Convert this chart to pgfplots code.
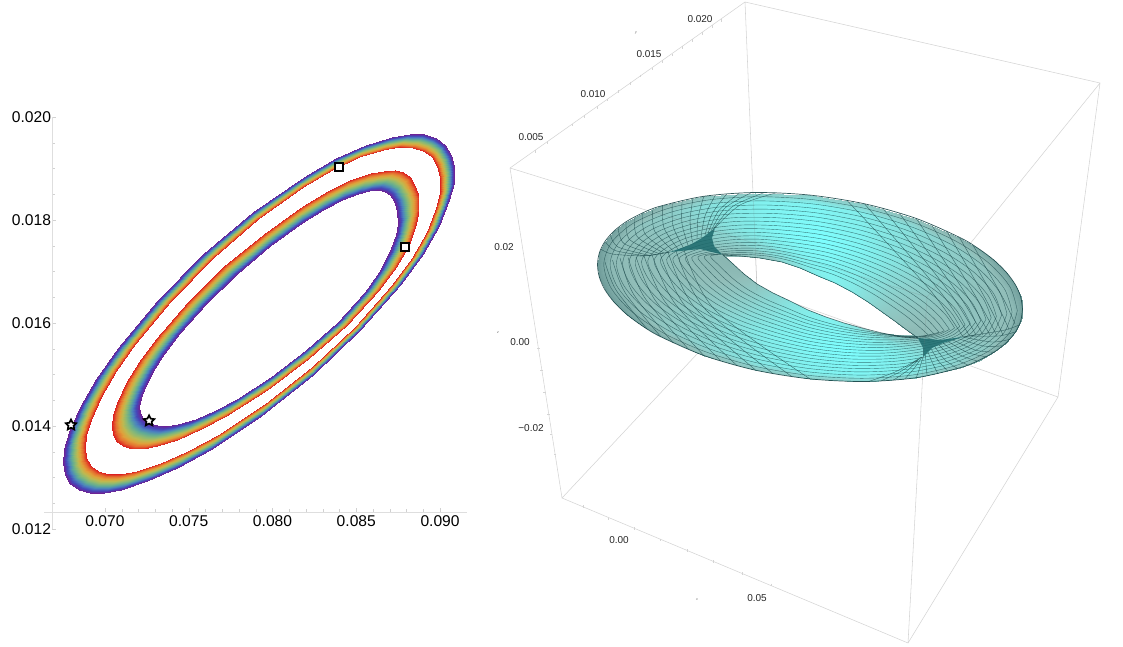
\documentclass[border=0pt]{standalone}
\usepackage{fontspec}
\setmainfont{Liberation Sans}
\usepackage{pgfplots}
\usepackage{pgfplotstable}
\pgfplotsset{compat=1.18}
\usetikzlibrary{plotmarks}

\definecolor{boxgray}{RGB}{212,212,212}
\definecolor{meshline}{RGB}{25,70,72}
\definecolor{folddark}{RGB}{28,105,108}

% five pointed star with a hollow middle
\pgfdeclareplotmark{hstar}{%
  \pgfpathmoveto{\pgfpointpolar{90}{\pgfplotmarksize}}%
  \pgfpathlineto{\pgfpointpolar{126}{.5\pgfplotmarksize}}%
  \pgfpathlineto{\pgfpointpolar{162}{\pgfplotmarksize}}%
  \pgfpathlineto{\pgfpointpolar{198}{.5\pgfplotmarksize}}%
  \pgfpathlineto{\pgfpointpolar{234}{\pgfplotmarksize}}%
  \pgfpathlineto{\pgfpointpolar{270}{.5\pgfplotmarksize}}%
  \pgfpathlineto{\pgfpointpolar{306}{\pgfplotmarksize}}%
  \pgfpathlineto{\pgfpointpolar{342}{.5\pgfplotmarksize}}%
  \pgfpathlineto{\pgfpointpolar{18}{\pgfplotmarksize}}%
  \pgfpathlineto{\pgfpointpolar{54}{.5\pgfplotmarksize}}%
  \pgfpathclose\pgfusepathqfillstroke}

% outer ring: x y m, m=0 red edge, m=1 purple edge
\pgfplotstableread[row sep=\\]{
x y m\\
0.089495 0.019221 0\\ 0.090314 0.019462 1\\
0.089839 0.019039 0\\ 0.090677 0.019268 1\\
0.090004 0.018813 0\\ 0.090847 0.019022 1\\
0.089975 0.018542 0\\ 0.090806 0.018727 1\\
0.089767 0.018233 0\\ 0.090565 0.018391 1\\
0.089194 0.017773 0\\ 0.089930 0.017888 1\\
0.088315 0.017268 0\\ 0.088955 0.017336 1\\
0.087148 0.016738 0\\ 0.087670 0.016753 1\\
0.084946 0.015925 0\\ 0.085252 0.015857 1\\
0.082345 0.015138 0\\ 0.082402 0.014986 1\\
0.079544 0.014423 0\\ 0.079328 0.014196 1\\
0.076733 0.013827 0\\ 0.076257 0.013536 1\\
0.074965 0.013514 0\\ 0.074319 0.013187 1\\
0.073336 0.013278 0\\ 0.072534 0.012926 1\\
0.071902 0.013127 0\\ 0.070958 0.012760 1\\
0.070981 0.013074 0\\ 0.069948 0.012701 1\\
0.070203 0.013072 0\\ 0.069094 0.012698 1\\
0.069595 0.013123 0\\ 0.068422 0.012755 1\\
0.069145 0.013227 0\\ 0.067928 0.012869 1\\
0.068881 0.013380 0\\ 0.067617 0.013044 1\\
0.068789 0.013581 0\\ 0.067495 0.013273 1\\
0.068881 0.013828 0\\ 0.067575 0.013554 1\\
0.069146 0.014118 0\\ 0.067849 0.013878 1\\
0.069762 0.014562 0\\ 0.068512 0.014372 1\\
0.070662 0.015059 0\\ 0.069492 0.014922 1\\
0.071813 0.015595 0\\ 0.070760 0.015510 1\\
0.073948 0.016433 0\\ 0.073115 0.016429 1\\
0.076436 0.017260 0\\ 0.075876 0.017331 1\\
0.079120 0.018017 0\\ 0.078862 0.018153 1\\
0.081832 0.018648 0\\ 0.081865 0.018839 1\\
0.083556 0.018977 0\\ 0.083779 0.019195 1\\
0.085168 0.019219 0\\ 0.085560 0.019458 1\\
0.086611 0.019367 0\\ 0.087147 0.019619 1\\
0.087551 0.019413 0\\ 0.088182 0.019670 1\\
0.088358 0.019405 0\\ 0.089068 0.019661 1\\
0.089006 0.019339 0\\ 0.089780 0.019591 1\\
0.089495 0.019221 0\\ 0.090314 0.019462 1\\
}\outerring

% inner ring: m=0 red outside, m=1 purple inside
\pgfplotstableread[row sep=\\]{
x y m\\
0.088190 0.018836 0\\ 0.086996 0.018484 1\\
0.088532 0.018665 0\\ 0.087291 0.018338 1\\
0.088719 0.018453 0\\ 0.087449 0.018157 1\\
0.088741 0.018206 0\\ 0.087472 0.017947 1\\
0.088584 0.017929 0\\ 0.087355 0.017710 1\\
0.088126 0.017524 0\\ 0.086978 0.017364 1\\
0.087379 0.017089 0\\ 0.086355 0.016995 1\\
0.086364 0.016639 0\\ 0.085518 0.016609 1\\
0.084418 0.015958 0\\ 0.083901 0.016028 1\\
0.082109 0.015309 0\\ 0.081974 0.015474 1\\
0.079672 0.014707 0\\ 0.079938 0.014958 1\\
0.077241 0.014199 0\\ 0.077904 0.014526 1\\
0.075710 0.013935 0\\ 0.076615 0.014304 1\\
0.074306 0.013736 0\\ 0.075419 0.014140 1\\
0.073078 0.013608 0\\ 0.074361 0.014038 1\\
0.072280 0.013561 0\\ 0.073671 0.014008 1\\
0.071617 0.013560 0\\ 0.073085 0.014016 1\\
0.071095 0.013602 0\\ 0.072614 0.014061 1\\
0.070715 0.013690 0\\ 0.072264 0.014146 1\\
0.070486 0.013821 0\\ 0.072098 0.014247 1\\
0.070411 0.013993 0\\ 0.072059 0.014385 1\\
0.070489 0.014205 0\\ 0.072153 0.014553 1\\
0.070726 0.014452 0\\ 0.072370 0.014753 1\\
0.071265 0.014829 0\\ 0.072855 0.015061 1\\
0.072055 0.015247 0\\ 0.073546 0.015406 1\\
0.073071 0.015698 0\\ 0.074419 0.015778 1\\
0.074949 0.016403 0\\ 0.076020 0.016365 1\\
0.077130 0.017098 0\\ 0.077867 0.016948 1\\
0.079470 0.017735 0\\ 0.079834 0.017489 1\\
0.081813 0.018273 0\\ 0.081789 0.017949 1\\
0.083293 0.018557 0\\ 0.083014 0.018195 1\\
0.084653 0.018771 0\\ 0.084137 0.018384 1\\
0.085856 0.018909 0\\ 0.085128 0.018511 1\\
0.086638 0.018961 0\\ 0.085761 0.018561 1\\
0.087293 0.018966 0\\ 0.086287 0.018574 1\\
0.087811 0.018924 0\\ 0.086705 0.018548 1\\
0.088190 0.018836 0\\ 0.086996 0.018484 1\\
}\innerring

% torus body in picture coordinates: 4 points per station
\pgfplotstableread[row sep=\\]{
x y m\\
1022.5 309.2 .25\\ 1012.1 312.1 .40\\ 970.3 323.6 .45\\ 918 338 .38\\
1020.7 297 .25\\ 1008.4 300.7 .40\\ 966 315.7 .45\\ 913 334.5 .38\\
1015.3 284.6 .25\\ 1004.6 289.2 .40\\ 961.7 307.8 .45\\ 908 331 .38\\
1006.3 272.3 .26\\ 994.4 277.8 .42\\ 953.4 299.5 .47\\ 902 326.5 .40\\
994 260.2 .28\\ 984.2 266.4 .45\\ 945 291.1 .50\\ 896 322 .43\\
978.6 248.7 .30\\ 968.3 255.8 .50\\ 933 283 .55\\ 889 317 .47\\
960.2 237.7 .33\\ 952.4 245.1 .54\\ 921.1 274.9 .60\\ 882 312 .51\\
916.3 218.5 .41\\ 911.5 226.9 .68\\ 892.2 260.3 .75\\ 868 302 .64\\
865 203.9 .50\\ 863.7 212.7 .81\\ 858.5 248 .90\\ 852 292 .77\\
810 195.1 .55\\ 812.5 203.9 .90\\ 822.5 239.1 1\\ 835 283 .85\\
755 192.5 .52\\ 761.3 200.9 .86\\ 786.5 234.3 .95\\ 818 276 .81\\
703.8 196.3 .44\\ 713.4 203.5 .72\\ 751.9 232.2 .80\\ 800 268 .68\\
659.8 206.3 .33\\ 672 211.9 .54\\ 720.9 234.2 .60\\ 782 262 .51\\
641.4 213.5 .30\\ 655.7 218.7 .50\\ 707 237 .55\\ 771 260 .47\\
626 221.8 .28\\ 639.4 225.4 .45\\ 693 239.9 .50\\ 760 258 .43\\
613.7 231.3 .26\\ 628.8 234.3 .42\\ 682.7 244.4 .47\\ 750 257 .40\\
604.7 241.8 .25\\ 618.2 243.2 .40\\ 672.4 248.9 .45\\ 740 256 .38\\
599.3 253 .24\\ 614.2 253.5 .39\\ 666.4 254.4 .43\\ 731.5 255.5 .37\\
597.5 264.8 .23\\ 610.1 263.8 .38\\ 660.3 259.9 .42\\ 723 255 .36\\
599.3 277 .23\\ 613.8 275.3 .38\\ 664.4 268 .42\\ 727.5 259 .36\\
604.7 289.4 .23\\ 617.4 286.8 .38\\ 668.4 276.2 .42\\ 732 263 .36\\
613.7 301.7 .24\\ 627.6 298.3 .39\\ 676.7 285 .43\\ 738 268.5 .37\\
626 313.8 .25\\ 637.8 309.8 .40\\ 685 293.9 .45\\ 744 274 .38\\
641.4 325.3 .27\\ 653.7 320.5 .45\\ 696.7 302 .50\\ 750.5 279 .42\\
659.8 336.3 .30\\ 669.5 331.1 .50\\ 708.4 310.2 .55\\ 757 284 .47\\
703.8 355.5 .39\\ 710.7 349.3 .63\\ 738.4 324.3 .70\\ 773 293 .60\\
755 370.1 .47\\ 758.5 363.2 .77\\ 772.5 335.6 .85\\ 790 301 .72\\
810 378.9 .52\\ 809.8 372 .86\\ 809 344.5 .95\\ 808 310 .81\\
865 381.5 .55\\ 861.1 375.1 .90\\ 845.5 349.3 1\\ 826 317 .85\\
916.3 377.7 .50\\ 909.1 372.2 .81\\ 880.2 350.4 .90\\ 844 323 .77\\
960.2 367.7 .39\\ 950.4 363.7 .63\\ 911.1 347.9 .70\\ 862 328 .60\\
978.6 360.5 .34\\ 966.6 357 .56\\ 924.6 345.3 .62\\ 872 330.5 .53\\
994 352.2 .30\\ 982.8 350.3 .50\\ 938 342.6 .55\\ 882 333 .47\\
1006.3 342.7 .27\\ 993.4 341.5 .45\\ 948.4 338.6 .50\\ 892 335 .42\\
1015.3 332.2 .25\\ 1004 332.7 .40\\ 958.7 334.6 .45\\ 902 337 .38\\
1020.7 321 .25\\ 1008 322.4 .40\\ 964.5 329.1 .45\\ 910 337.5 .38\\
1022.5 309.2 .25\\ 1012.1 312.1 .40\\ 970.3 323.6 .45\\ 918 338 .38\\
}\torusbody

% long mesh lines round the ring
\pgfplotstableread[row sep=\\]{
x y\\
1017.3 310.6\\ 1010 286.9\\ 989.1 263.3\\ 956.3 241.4\\ 913.9 222.7\\ 864.4 208.3\\ 811.3 199.5\\ 758.2 196.7\\ 708.6 199.9\\ 665.9 209.1\\ 632.7 223.6\\ 611.5 242.5\\ 603.8 264.3\\ 611.1 288.1\\ 631.9 311.8\\ 664.7 333.7\\ 707.3 352.4\\ 756.8 366.7\\ 809.9 375.5\\ 863.1 378.3\\ 912.7 375\\ 955.3 365.7\\ 988.4 351.3\\ 1009.7 332.5\\ 1017.3 310.6\\ nan nan\\
1012.1 312.1\\ 1004.6 289.2\\ 984.2 266.4\\ 952.4 245.1\\ 911.5 226.9\\ 863.7 212.7\\ 812.5 203.9\\ 761.3 200.9\\ 713.4 203.5\\ 672 211.9\\ 639.4 225.4\\ 618.2 243.2\\ 610.1 263.8\\ 617.4 286.8\\ 637.8 309.8\\ 669.5 331.1\\ 710.7 349.3\\ 758.5 363.2\\ 809.8 372\\ 861.1 375.1\\ 909.1 372.2\\ 950.4 363.7\\ 982.8 350.3\\ 1004 332.7\\ 1012.1 312.1\\ nan nan\\
1006.9 313.6\\ 999.2 291.6\\ 979.3 269.5\\ 948.5 248.9\\ 909.1 231.1\\ 863.1 217.1\\ 813.8 208.3\\ 764.5 205\\ 718.2 207.1\\ 678.1 214.7\\ 646.1 227.2\\ 625 243.9\\ 616.4 263.3\\ 623.8 285.5\\ 643.7 307.8\\ 674.4 328.5\\ 714.2 346.2\\ 760.3 359.8\\ 809.7 368.6\\ 859.2 371.9\\ 905.5 369.5\\ 945.5 361.8\\ 977.2 349.4\\ 998.3 333\\ 1006.9 313.6\\ nan nan\\
1001.6 315\\ 993.8 293.9\\ 974.4 272.6\\ 944.6 252.6\\ 906.6 235.2\\ 862.4 221.5\\ 815 212.7\\ 767.6 209.2\\ 723 210.6\\ 684.2 217.4\\ 652.8 229\\ 631.8 244.6\\ 622.6 262.8\\ 630.2 284.1\\ 649.6 305.8\\ 679.2 325.8\\ 717.6 343\\ 762 356.3\\ 809.6 365.1\\ 857.2 368.6\\ 901.8 366.8\\ 940.6 359.8\\ 971.6 348.4\\ 992.6 333.2\\ 1001.6 315\\ nan nan\\
996.4 316.4\\ 988.5 296.2\\ 969.5 275.7\\ 940.7 256.3\\ 904.2 239.4\\ 861.8 225.9\\ 816.3 217.1\\ 770.8 213.4\\ 727.9 214.2\\ 690.4 220.2\\ 659.5 230.9\\ 638.6 245.4\\ 628.9 262.4\\ 636.6 282.8\\ 655.5 303.9\\ 684.1 323.2\\ 721.1 339.9\\ 763.8 352.9\\ 809.5 361.7\\ 855.3 365.4\\ 898.2 364.1\\ 935.7 357.8\\ 966 347.4\\ 987 333.4\\ 996.4 316.4\\ nan nan\\
991.2 317.8\\ 983.1 298.5\\ 964.6 278.7\\ 936.7 260\\ 901.8 243.6\\ 861.1 230.3\\ 817.5 221.5\\ 773.9 217.6\\ 732.7 217.8\\ 696.5 223\\ 666.2 232.7\\ 645.3 246.1\\ 635.2 261.9\\ 642.9 281.5\\ 661.4 301.9\\ 689 320.6\\ 724.6 336.8\\ 765.5 349.4\\ 809.4 358.2\\ 853.3 362.2\\ 894.6 361.3\\ 930.7 355.8\\ 960.4 346.4\\ 981.3 333.6\\ 991.2 317.8\\ nan nan\\
986 319.3\\ 977.8 300.9\\ 959.7 281.8\\ 932.8 263.7\\ 899.4 247.8\\ 860.5 234.7\\ 818.8 225.9\\ 777 221.8\\ 737.5 221.4\\ 702.6 225.8\\ 672.9 234.5\\ 652.1 246.8\\ 641.5 261.4\\ 649.3 280.2\\ 667.3 299.9\\ 693.9 318\\ 728.1 333.7\\ 767.3 346\\ 809.3 354.8\\ 851.4 359\\ 891 358.6\\ 925.8 353.8\\ 954.8 345.5\\ 975.7 333.9\\ 986 319.3\\ nan nan\\
980.7 320.7\\ 972.4 303.2\\ 954.8 284.9\\ 928.9 267.4\\ 897 251.9\\ 859.8 239.1\\ 820 230.3\\ 780.2 225.9\\ 742.3 225\\ 708.7 228.6\\ 679.6 236.3\\ 658.8 247.5\\ 647.7 260.9\\ 655.6 278.8\\ 673.2 297.9\\ 698.7 315.4\\ 731.5 330.5\\ 769 342.5\\ 809.2 351.3\\ 849.4 355.7\\ 887.4 355.8\\ 920.9 351.8\\ 949.2 344.5\\ 970 334.1\\ 980.7 320.7\\ nan nan\\
975.5 322.2\\ 967.1 305.5\\ 949.9 288\\ 925 271.2\\ 894.6 256.1\\ 859.2 243.6\\ 821.3 234.7\\ 783.4 230.1\\ 747.1 228.6\\ 714.8 231.4\\ 686.3 238.1\\ 665.6 248.2\\ 654 260.4\\ 662 277.5\\ 679.1 295.9\\ 703.6 312.8\\ 735 327.4\\ 770.8 339.1\\ 809.1 347.9\\ 847.5 352.5\\ 883.8 353.1\\ 916 349.9\\ 943.6 343.6\\ 964.4 334.4\\ 975.5 322.2\\ nan nan\\
970.3 323.6\\ 961.7 307.8\\ 945 291.1\\ 921.1 274.9\\ 892.2 260.3\\ 858.5 248\\ 822.5 239.1\\ 786.5 234.3\\ 751.9 232.2\\ 720.9 234.2\\ 693 239.9\\ 672.4 248.9\\ 660.3 259.9\\ 668.4 276.2\\ 685 293.9\\ 708.4 310.2\\ 738.4 324.3\\ 772.5 335.6\\ 809 344.5\\ 845.5 349.3\\ 880.2 350.4\\ 911.1 347.9\\ 938 342.6\\ 958.7 334.6\\ 970.3 323.6\\ nan nan\\
965.1 325.1\\ 956.3 310.1\\ 940.1 294.2\\ 917.2 278.6\\ 889.8 264.5\\ 857.9 252.4\\ 823.8 243.5\\ 789.7 238.5\\ 756.7 235.8\\ 727 237\\ 699.7 241.7\\ 679.2 249.6\\ 666.6 259.4\\ 674.8 274.9\\ 690.9 291.9\\ 713.3 307.6\\ 741.9 321.2\\ 774.3 332.1\\ 808.9 341.1\\ 843.6 346.1\\ 876.6 347.7\\ 906.2 345.9\\ 932.4 341.7\\ 953 334.9\\ 965.1 325.1\\ nan nan\\
959.8 326.5\\ 950.9 312.4\\ 935.2 297.3\\ 913.3 282.3\\ 887.3 268.6\\ 857.2 256.8\\ 825 247.8\\ 792.8 242.6\\ 761.5 239.3\\ 733.1 239.7\\ 706.4 243.5\\ 685.9 250.3\\ 672.8 258.9\\ 681.1 273.6\\ 696.8 289.9\\ 718.1 304.9\\ 745.3 318\\ 776 328.6\\ 808.8 337.6\\ 841.6 342.8\\ 872.9 344.9\\ 901.3 343.9\\ 926.8 340.7\\ 947.3 335.1\\ 959.8 326.5\\ nan nan\\
954.6 328\\ 945.6 314.8\\ 930.3 300.4\\ 909.4 286\\ 884.9 272.8\\ 856.6 261.2\\ 826.3 252.2\\ 796 246.8\\ 766.3 242.9\\ 739.2 242.5\\ 713.1 245.3\\ 692.7 251\\ 679.1 258.5\\ 687.5 272.3\\ 702.7 287.9\\ 723 302.3\\ 748.8 314.9\\ 777.8 325.2\\ 808.7 334.2\\ 839.7 339.6\\ 869.3 342.2\\ 896.4 341.9\\ 921.2 339.8\\ 941.7 335.4\\ 954.6 328\\ nan nan\\
949.4 329.4\\ 940.2 317.1\\ 925.4 303.5\\ 905.5 289.7\\ 882.5 277\\ 855.9 265.6\\ 827.5 256.6\\ 799.1 251\\ 771.1 246.5\\ 745.3 245.3\\ 719.8 247.1\\ 699.4 251.7\\ 685.4 258\\ 693.8 270.9\\ 708.6 285.9\\ 727.8 299.7\\ 752.2 311.8\\ 779.5 321.7\\ 808.6 330.7\\ 837.7 336.4\\ 865.7 339.4\\ 891.5 339.9\\ 915.6 338.8\\ 936 335.6\\ 949.4 329.4\\ nan nan\\
944.2 330.8\\ 934.9 319.4\\ 920.5 306.6\\ 901.6 293.4\\ 880.1 281.2\\ 855.3 270\\ 828.8 261\\ 802.3 255.2\\ 776 250.1\\ 751.5 248.1\\ 726.5 249\\ 706.2 252.5\\ 691.7 257.5\\ 700.2 269.6\\ 714.5 284\\ 732.7 297.1\\ 755.7 308.7\\ 781.3 318.3\\ 808.5 327.3\\ 835.8 333.2\\ 862.1 336.7\\ 886.6 337.9\\ 910 337.8\\ 930.4 335.8\\ 944.2 330.8\\ nan nan\\
938.9 332.2\\ 929.5 321.7\\ 915.6 309.6\\ 897.6 297.1\\ 877.7 285.3\\ 854.6 274.4\\ 830 265.4\\ 805.4 259.3\\ 780.8 253.7\\ 757.6 250.9\\ 733.2 250.8\\ 712.9 253.2\\ 697.9 257\\ 706.5 268.3\\ 720.4 282\\ 737.6 294.5\\ 759.2 305.5\\ 783 314.8\\ 808.4 323.8\\ 833.8 329.9\\ 858.5 333.9\\ 881.6 335.9\\ 904.4 336.8\\ 924.7 336\\ 938.9 332.2\\ nan nan\\
933.7 333.7\\ 924.1 324.1\\ 910.7 312.7\\ 893.7 300.9\\ 875.3 289.5\\ 854 278.8\\ 831.3 269.8\\ 808.6 263.5\\ 785.6 257.3\\ 763.7 253.7\\ 739.9 252.6\\ 719.7 253.9\\ 704.2 256.5\\ 712.9 267\\ 726.3 280\\ 742.5 291.9\\ 762.7 302.4\\ 784.8 311.4\\ 808.3 320.4\\ 831.9 326.7\\ 854.9 331.2\\ 876.7 334\\ 898.8 335.9\\ 919 336.3\\ 933.7 333.7\\ nan nan\\
928.5 335.1\\ 918.7 326.4\\ 905.8 315.8\\ 889.8 304.6\\ 872.8 293.7\\ 853.3 283.2\\ 832.5 274.2\\ 811.7 267.7\\ 790.4 260.8\\ 769.8 256.4\\ 746.6 254.4\\ 726.5 254.6\\ 710.5 256\\ 719.3 265.6\\ 732.2 278\\ 747.3 289.2\\ 766.1 299.3\\ 786.5 307.9\\ 808.2 316.9\\ 829.9 323.5\\ 851.2 328.5\\ 871.8 332\\ 893.2 334.9\\ 913.3 336.5\\ 928.5 335.1\\
}\longlines

% short mesh arcs at both ends of the ring
\pgfplotstableread[row sep=\\]{
x y\\
600.7 249.1\\ 612 254\\ 640 256\\ nan nan\\
605.5 241.9\\ 615 250.5\\ 645 255.8\\ nan nan\\
610.3 234.7\\ 618 247\\ 650 255.5\\ nan nan\\
618.2 228.3\\ 624 243.5\\ 655 254.8\\ nan nan\\
626 221.8\\ 630 240\\ 660 254\\ nan nan\\
634.3 217.4\\ 637.5 237\\ 664 253\\ nan nan\\
642.6 212.9\\ 645 234\\ 668 252\\ nan nan\\
652.5 209.2\\ 654.5 231\\ 673 250.5\\ nan nan\\
662.4 205.5\\ 664 228\\ 678 249\\ nan nan\\
672.3 202.9\\ 673 226\\ 683 247\\ nan nan\\
682.1 200.2\\ 682 224\\ 688 245\\ nan nan\\
693 198.3\\ 690 221\\ 692.5 242.5\\ nan nan\\
703.8 196.3\\ 698 218\\ 697 240\\ nan nan\\
715.4 195\\ 705 216\\ 701 237.5\\ nan nan\\
726.9 193.7\\ 712 214\\ 705 235\\ nan nan\\
739.2 193.2\\ 718.5 211\\ 708 233\\ nan nan\\
751.4 192.6\\ 725 208\\ 711 231\\ nan nan\\
764.1 192.7\\ 732.5 206.5\\ 713 229.5\\ nan nan\\
776.8 192.7\\ 740 205\\ 715 228\\ nan nan\\
605 262\\ 616 290\\ 647.2 329.1\\ nan nan\\
612.5 260\\ 625 292.5\\ 660.3 336.1\\ nan nan\\
620 258\\ 634 295\\ 673.4 343.1\\ nan nan\\
628 257.5\\ 644.5 297.5\\ 688.6 349.3\\ nan nan\\
636 257\\ 655 300\\ 703.8 355.5\\ nan nan\\
644 256\\ 665.5 302.5\\ 720.6 360.7\\ nan nan\\
652 255\\ 676 305\\ 737.3 365.8\\ nan nan\\
660 253.5\\ 685.5 306.5\\ 755.2 369.7\\ nan nan\\
668 252\\ 695 308\\ 773 373.6\\ nan nan\\
676 251\\ 705 309\\ 791.5 376.3\\ nan nan\\
684 250\\ 715 310\\ 810 378.9\\ nan nan\\
1015 324\\ 1003 298\\ 972.8 244.9\\ nan nan\\
1009 329.5\\ 994 298\\ 959.7 237.9\\ nan nan\\
1003 335\\ 985 298\\ 946.6 230.9\\ nan nan\\
996.5 335\\ 976 297\\ 931.5 224.7\\ nan nan\\
990 335\\ 967 296\\ 916.3 218.5\\ nan nan\\
983 335\\ 958.5 294.5\\ 899.5 213.4\\ nan nan\\
976 335\\ 950 293\\ 882.7 208.2\\ nan nan\\
969.5 336\\ 940 291.5\\ 864.9 204.3\\ nan nan\\
963 337\\ 930 290\\ 847 200.4\\ nan nan\\
1019.3 324.9\\ 1005 330\\ 975 335\\ nan nan\\
1014.5 332.1\\ 998.5 336\\ 969 336\\ nan nan\\
1009.7 339.3\\ 992 342\\ 963 337\\ nan nan\\
1001.9 345.8\\ 983.5 346\\ 958 338.5\\ nan nan\\
994 352.2\\ 975 350\\ 953 340\\ nan nan\\
985.8 356.7\\ 967.5 352.5\\ 948 341.5\\ nan nan\\
977.5 361.1\\ 960 355\\ 943 343\\ nan nan\\
967.6 364.8\\ 952.5 357.5\\ 939 345\\ nan nan\\
957.7 368.5\\ 945 360\\ 935 347\\ nan nan\\
947.8 371.2\\ 938.5 361\\ 931.5 349.5\\ nan nan\\
937.9 373.8\\ 932 362\\ 928 352\\ nan nan\\
927.1 375.8\\ 926 364.5\\ 925.5 354.5\\ nan nan\\
916.3 377.7\\ 920 367\\ 923 357\\ nan nan\\
904.7 379\\ 914 368.5\\ 922 357\\ nan nan\\
893.1 380.3\\ 908 370\\ 921 357\\ nan nan\\
880.9 380.9\\ 901.5 371\\ 920.5 357.5\\ nan nan\\
868.7 381.4\\ 895 372\\ 920 358\\
}\shortarcs

% edges of the box, hexagon first and then the two inner corners
\pgfplotstableread[row sep=\\]{
x y\\
510 168\\ 745 2\\ 1100 83\\ 1058 397\\ 908 643\\ 562 498\\ 510 168\\ nan nan\\
745 2\\ 757 290\\ 562 498\\ nan nan\\
757 290\\ 1058 397\\ nan nan\\
510 168\\ 927 297\\ 1100 83\\ nan nan\\
927 297\\ 908 643\\
}\boxedges

\begin{document}
\begin{tikzpicture}
\useasboundingbox (0,0) rectangle (1123pt,647pt);

% right panel, drawn in picture coordinates
\begin{axis}[
  at={(0pt,0pt)}, anchor=south west,
  scale only axis, width=1123pt, height=647pt,
  xmin=0, xmax=1123, ymin=0, ymax=647, y dir=reverse,
  hide axis, clip=false,
  unbounded coords=jump,
  point meta min=0, point meta max=1,
  colormap={torus}{rgb255=(60,110,110) rgb255=(105,150,148) rgb255=(145,190,185) rgb255=(140,212,208) rgb255=(132,235,232) rgb255=(125,255,255)},
]
\addplot[no marks, color=boxgray, line width=.55pt] table {\boxedges};
\addplot[only marks, mark=|, mark size=1.3pt, color=boxgray] coordinates {
  (535,151.7) (547.3,142.3) (571.7,125) (584.3,116.7) (596.7,107.7) (606.7,100)
  (618.3,91.7) (630,83.3) (640,76) (651.7,69) (662.3,61.7) (672.3,55)
  (682.3,47.7) (692.3,40.7) (701.7,33.3) (711.7,26.7) (720.7,20.7)
  (583.3,506.7) (608.3,519) (634,528.3) (660,540) (686.7,550.7) (713.3,561.7)
  (741.7,573.3) (770.7,585)};
\addplot[only marks, mark=-, mark size=1.3pt, color=boxgray] coordinates {
  (555,454.3) (551,434.3) (548.3,414.3) (544.3,391.7) (541.7,370) (538.3,348.3)};

\addplot[surf, shader=interp, mesh/rows=37, mesh/cols=4, point meta=explicit]
  table[x=x, y=y, meta=m] {\torusbody};

\addplot[no marks, smooth, color=meshline, opacity=.7, line width=.4pt] table {\longlines};
\addplot[no marks, smooth, color=meshline, opacity=.75, line width=.4pt] table {\shortarcs};

% the two dark folds
\addplot[fill=folddark, draw=none, opacity=.85] coordinates {
  (715,228) (702,238) (690,245) (670,252) (700,249) (722,254.5) (714,246) (712,238)} -- cycle;
\addplot[fill=folddark, draw=none, opacity=.85] coordinates {
  (918,338) (940,340) (963,337) (943,343) (932,348) (923,357) (923,348)} -- cycle;
\addplot[no marks, color=meshline, line width=.5pt] coordinates {(640,256) (650,255.5) (670,252)};
\addplot[no marks, color=meshline, line width=.5pt] coordinates {(963,337) (975,335)};

% silhouette and hole edge
\addplot[no marks, smooth, color=meshline, opacity=.9, line width=.7pt] coordinates {
  (1022.5,309.2) (1020.7,297) (1015.3,284.6) (1006.3,272.3) (994,260.2) (978.6,248.7) (960.2,237.7) (916.3,218.5) (865,203.9)
  (810,195.1) (755,192.5) (703.8,196.3) (659.8,206.3) (641.4,213.5) (626,221.8) (613.7,231.3) (604.7,241.8) (599.3,253)
  (597.5,264.8) (599.3,277) (604.7,289.4) (613.7,301.7) (626,313.8) (641.4,325.3) (659.8,336.3) (703.8,355.5) (755,370.1)
  (810,378.9) (865,381.5) (916.3,377.7) (960.2,367.7) (978.6,360.5) (994,352.2) (1006.3,342.7) (1015.3,332.2) (1020.7,321) (1022.5,309.2)};
\addplot[no marks, color=meshline, opacity=.85, line width=.6pt] coordinates {
  (918,338) (908,331) (896,322) (882,312) (868,302) (852,292) (835,283) (818,276)
  (800,268) (782,262) (760,258) (740,256) (723,255) (732,263) (744,274) (757,284)
  (773,293) (790,301) (808,310) (826,317) (844,323) (862,328) (882,333) (902,337) (918,338)};

% box edges seen through the body
\addplot[no marks, color=black!55, opacity=.22, line width=.5pt] coordinates {(753,192) (757,290)};
\addplot[no marks, color=black!55, opacity=.22, line width=.5pt] coordinates {(657,213) (927,297) (950,270)};
\addplot[no marks, color=black!55, opacity=.22, line width=.5pt] coordinates {(927,297) (922,380)};

\begin{scope}[every node/.style={font=\fontsize{10}{12}\selectfont, text=black!85, inner sep=0pt}]
\node at (axis cs:531,137) {0.005};
\node at (axis cs:593,94) {0.010};
\node at (axis cs:649,54) {0.015};
\node at (axis cs:700,19) {0.020};
\node at (axis cs:504,247) {0.02};
\node at (axis cs:520,342) {0.00};
\node at (axis cs:531,428) {−0.02};
\node at (axis cs:619,540) {0.00};
\node at (axis cs:757,598) {0.05};
\end{scope}
\begin{scope}[every node/.style={font=\fontsize{3.5}{4}\selectfont\itshape, text=black!60, inner sep=0pt}]
\node at (axis cs:636,33) {y};
\node at (axis cs:498,333) {z};
\node at (axis cs:697,600) {x};
\end{scope}
\end{axis}

% left panel
\begin{axis}[
  at={(52pt,118pt)}, anchor=south west,
  scale only axis, width=415pt, height=412pt,
  xmin=0.066836, xmax=0.091611, ymin=0.012, ymax=0.020,
  axis x line*=bottom, axis y line*=left,
  axis x line shift=-17pt,
  x axis line style={shorten <=-8pt},
  axis line style={color=black!13, line width=.8pt},
  tick align=inside,
  tick style={color=black!18},
  major tick length=4pt, minor tick length=2.5pt,
  xtick={0.07,0.075,0.08,0.085,0.09},
  ytick={0.012,0.014,0.016,0.018,0.02},
  minor x tick num=4, minor y tick num=3,
  scaled ticks=false,
  tick label style={font=\fontsize{15.6}{18}\selectfont},
  y tick label style={xshift=2.5pt},
  /pgf/number format/fixed, /pgf/number format/fixed zerofill,
  /pgf/number format/precision=3,
  /pgf/number format/assume math mode=true,
  point meta min=0, point meta max=1,
  colormap={ringbow}{rgb255=(219,33,32) rgb255=(229,110,48) rgb255=(224,160,58) rgb255=(190,185,80) rgb255=(140,185,115) rgb255=(96,170,150) rgb255=(75,130,190) rgb255=(70,70,185) rgb255=(110,35,150)},
  clip=false,
]
\addplot[surf, shader=interp, mesh/rows=37, mesh/cols=2, point meta=explicit]
  table[x=x, y=y, meta=m] {\outerring};
\addplot[surf, shader=interp, mesh/rows=37, mesh/cols=2, point meta=explicit]
  table[x=x, y=y, meta=m] {\innerring};
\addplot[only marks, mark=square*, mark size=4pt,
  mark options={fill=white, draw=black, line width=1.8pt}]
  coordinates {(0.08397,0.01903) (0.08791,0.01748)};
\addplot[only marks, mark=hstar, mark size=5.5pt,
  mark options={fill=white, draw=black, line width=1.7pt}]
  coordinates {(0.06797,0.01402) (0.07263,0.01410)};
\end{axis}
\end{tikzpicture}
\end{document}
